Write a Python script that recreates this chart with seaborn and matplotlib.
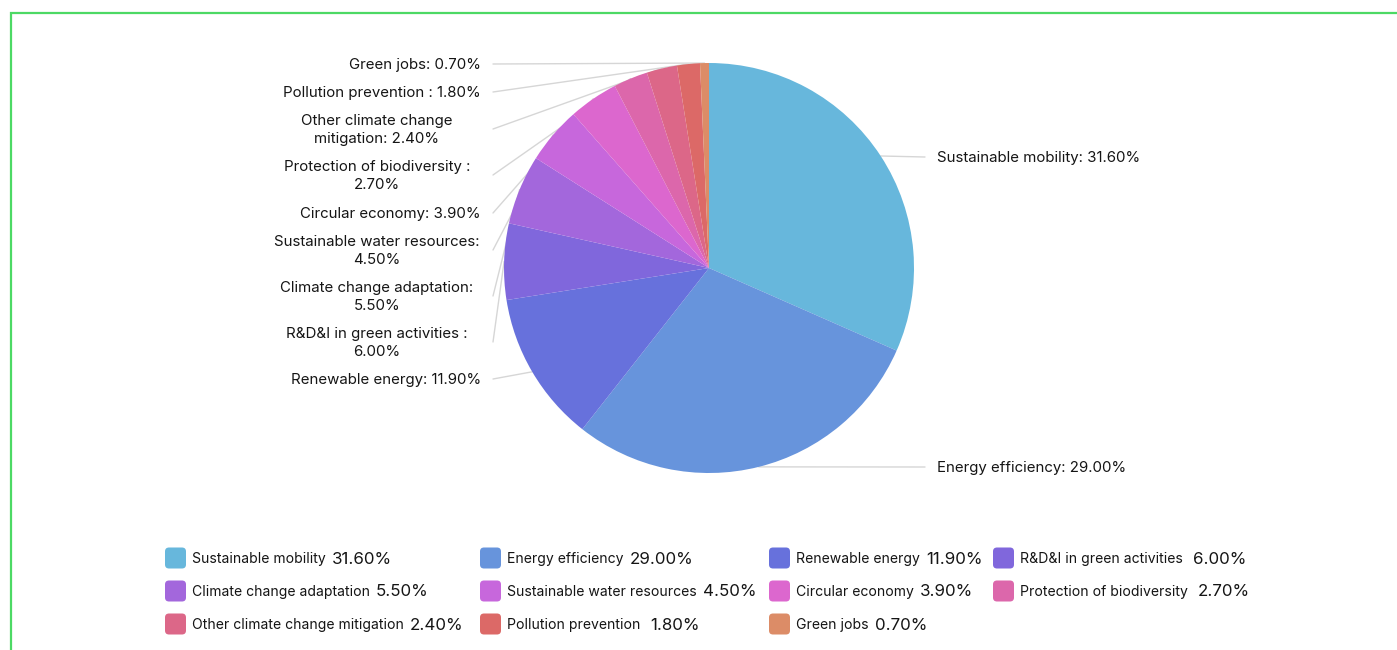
import textwrap
import matplotlib
matplotlib.use("Agg")
import matplotlib.pyplot as plt
from matplotlib.patches import FancyBboxPatch
import numpy as np
import seaborn as sns

# ---------------- data ----------------
categories = [
    "Sustainable mobility",
    "Energy efficiency",
    "Renewable energy",
    "R&D&I in green activities ",
    "Climate change adaptation",
    "Sustainable water resources",
    "Circular economy",
    "Protection of biodiversity ",
    "Other climate change mitigation",
    "Pollution prevention ",
    "Green jobs",
]
shares = [31.6, 29.0, 11.9, 6.0, 5.5, 4.5, 3.9, 2.7, 2.4, 1.8, 0.7]
colors = ["#67b7dc", "#6794dc", "#6771dc", "#8067dc", "#a367dc", "#c767dc",
          "#dc67ce", "#dc67ab", "#dc6788", "#dc6967", "#dc8c67"]

# ---------------- layout (pixels) ----------------
W, H = 1397, 650
cx, cy, R = 709, 268, 205
label_y = [158, 468, 380, 343, 297, 251, 214, 176, 130, 93, 65]
legend_cols = [165, 480, 769, 993]
legend_rows = [559, 592, 625]
text_color = "#151515"
line_color = "#d6d6d6"

sns.set_theme(style="white")
plt.rcParams["font.family"] = ["Inter", "DejaVu Sans"]

fig = plt.figure(figsize=(W / 100, H / 100), dpi=100)
fig.patch.set_facecolor("white")
ax = fig.add_axes([0, 0, 1, 1])

pal = sns.color_palette(colors)
wedges, _ = ax.pie(shares, colors=pal, startangle=-90, counterclock=True,
                   center=(cx, cy), radius=R,
                   wedgeprops=dict(linewidth=0, zorder=2))
ax.set_xlim(0, W)
ax.set_ylim(H, 0)
ax.set_aspect("auto")
ax.axis("off")

FS = 10.8
total = sum(shares)
cum = np.cumsum([0] + shares[:-1])
for i, (name, v) in enumerate(zip(categories, shares)):
    mid = cum[i] + v / 2
    ang = np.deg2rad(-90 + 360 * mid / total)
    ex, ey = cx + R * np.cos(ang), cy + R * np.sin(ang)
    text = textwrap.fill(f"{name}: {v:.2f}%", width=28)
    ly = label_y[i]
    if ex > cx:
        ax.plot([ex, 925], [ey, ly - 1], color=line_color, lw=1, zorder=1)
        ax.text(937, ly, text, ha="left", va="center", fontsize=FS,
                color=text_color)
    else:
        ax.plot([493, ex], [ly - 1, ey], color=line_color, lw=1, zorder=1)
        if "\n" in text:
            ax.text(377, ly, text, ha="center", va="center", fontsize=FS,
                    color=text_color, multialignment="center",
                    linespacing=1.28)
        else:
            ax.text(481, ly, text, ha="right", va="center", fontsize=FS,
                    color=text_color)

# ---------------- legend ----------------
for i, (name, v) in enumerate(zip(categories, shares)):
    r, c = divmod(i, 4)
    x0 = legend_cols[c]
    yc = legend_rows[r]
    sq = FancyBboxPatch((x0 + 4, yc - 1 - 10.5 + 4), 21 - 8, 21 - 8,
                        boxstyle="round,pad=4,rounding_size=4",
                        facecolor=pal[i], edgecolor="none", zorder=3)
    ax.add_patch(sq)
    lab = ax.text(x0 + 27, yc, name.rstrip(), ha="left", va="center",
                  fontsize=10.1, color=text_color)
    gap = 10 if name.endswith(" ") else 6
    ax.annotate(f"{v:.2f}%", xy=(1, 0.5), xycoords=lab, xytext=(gap, 0),
                textcoords="offset pixels", ha="left", va="center",
                fontsize=12.2, color=text_color)

# ---------------- frame ----------------
ax.plot([11, 11, W + 5], [H + 5, 13, 13], color="#4cd964", lw=1.6,
        clip_on=False, zorder=5, solid_joinstyle="miter")

fig.savefig("out.png", dpi=100, facecolor="white")
